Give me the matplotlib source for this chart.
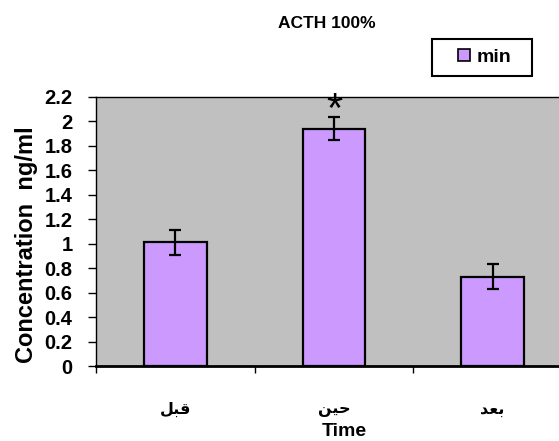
import matplotlib
matplotlib.use('Agg')
import matplotlib.pyplot as plt
import numpy as np
from matplotlib.patches import Patch, Rectangle

plt.rcParams['font.family'] = ['Liberation Sans', 'DejaVu Sans']
plt.rcParams['font.weight'] = 'bold'

# Arabic labels in presentation forms (display order): قبل / حين / بعد
categories = ['\uFEDE\uFE92\uFED7', '\uFEE6\uFEF4\uFEA3', '\uFEAA\uFECC\uFE91']
means = [1.01, 1.94, 0.73]
errors = [0.10, 0.095, 0.10]
series_name = 'min'
yticks = [0, 0.2, 0.4, 0.6, 0.8, 1, 1.2, 1.4, 1.6, 1.8, 2, 2.2]
ytick_labels = ['0', '0.2', '0.4', '0.6', '0.8', '1', '1.2', '1.4', '1.6', '1.8', '2', '2.2']

bar_color = '#CC99FF'
W, H = 559, 441

fig = plt.figure(figsize=(W / 100, H / 100), dpi=100)
# plot area runs a little past the right edge (cropped like the original)
ax = fig.add_axes([96 / W, 75 / H, 476 / W, 269.3 / H])
ax.set_facecolor('#C0C0C0')

x = np.arange(len(categories))
ax.bar(x, means, width=0.393, color=bar_color, edgecolor='black', linewidth=1.6, zorder=2)
ax.errorbar(x, means, yerr=errors, fmt='none', ecolor='black', elinewidth=1.6,
            capsize=4, capthick=1.6, zorder=3)

# significance mark on the middle bar
ax.text(1, means[1] + 0.05, '*', ha='center', va='baseline', fontsize=30, fontweight='normal')

ax.set_xlim(-0.5, 2.5)
ax.set_ylim(0, 2.2)
ax.set_yticks(yticks)
ax.set_yticklabels(ytick_labels, fontsize=14.5, fontweight='bold')
ax.set_xticks(x)
ax.set_xticklabels(categories, fontsize=11.5, fontweight='bold')
ax.set_xticks([-0.5, 0.5, 1.5], minor=True)
ax.tick_params(axis='x', which='major', length=0, pad=26)
ax.tick_params(axis='x', which='minor', length=5, width=1, direction='out')
ax.tick_params(axis='y', length=6, width=1, direction='out', pad=11)

for side in ['left', 'top', 'right']:
    ax.spines[side].set_linewidth(1.0)
ax.spines['bottom'].set_linewidth(2.0)

ax.set_ylabel('Concentration  ng/ml', fontsize=17, fontweight='bold')
ax.yaxis.set_label_coords(-0.122, 0.449)
ax.set_xlabel('Time', fontsize=14, fontweight='bold')
ax.xaxis.set_label_coords(0.521, -0.212)

fig.text(327 / W, 1 - 23.5 / H, 'ACTH 100%', ha='center', va='center',
         fontsize=12.5, fontweight='bold')

# legend box
fig.patches.append(Rectangle((432 / W, 1 - 76 / H), 100 / W, 37 / H, transform=fig.transFigure,
                             facecolor='white', edgecolor='black', linewidth=1.5))
handles = [Patch(facecolor=bar_color, edgecolor='black', linewidth=1.2)]
fig.legend(handles, [series_name], loc='center', bbox_to_anchor=(485 / W, 1 - 57.5 / H),
           frameon=False, handlelength=0.6, handleheight=0.6, handletextpad=0.35,
           borderpad=0.2, prop={'weight': 'bold', 'size': 14})

fig.savefig('out.png', dpi=100)
